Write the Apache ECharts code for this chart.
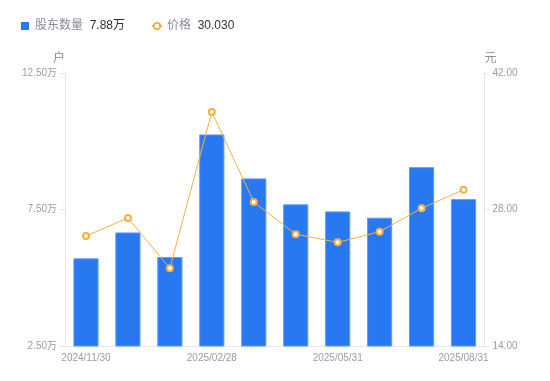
<!DOCTYPE html>
<html>
<head>
<meta charset="utf-8">
<script src="https://cdn.jsdelivr.net/npm/echarts@6/dist/echarts.min.js"></script>
<style>html,body{margin:0;padding:0;background:#fff}#c{width:550px;height:381px}</style>
</head>
<body>
<div id="c"></div>
<script>
var categories = ['2024/11/30','2024/12/31','2025/01/31','2025/02/28','2025/03/31','2025/04/30','2025/05/31','2025/06/30','2025/07/31','2025/08/31'];
var holders = [5.71, 6.66, 5.76, 10.25, 8.64, 7.69, 7.43, 7.20, 9.05, 7.88];
var prices = [25.28, 27.13, 21.97, 38.00, 28.77, 25.46, 24.63, 25.72, 28.12, 30.03];
var leftTicks = [2.5, 12.5, 5];
var rightTicks = [14, 42, 14];

var chart = echarts.init(document.getElementById('c'));
var labelColor = '#9b9bab';
var lineColor = '#e6e6e6';
chart.setOption({
  animation: false,
  textStyle: { fontFamily: '"Liberation Sans", "Noto Sans CJK SC", sans-serif' },
  legend: {
    left: 16, top: 15,
    itemGap: 26,
    itemWidth: 10, itemHeight: 8,
    symbolKeepAspect: true,
    data: [
      { name: '股东数量', icon: 'path://M0,0H10V10H0Z', itemStyle: { borderWidth: 0, color: '#2878f2' } },
      { name: '价格' }
    ],
    formatter: function (name) {
      if (name === '股东数量') return '{n|' + name + '}  {v|' + holders[holders.length - 1].toFixed(2) + '万}';
      return '{n|' + name + '}  {v|' + prices[prices.length - 1].toFixed(3) + '}';
    },
    textStyle: {
      rich: {
        n: { color: '#8a8a99', fontSize: 12 },
        v: { color: '#333', fontSize: 12 }
      }
    }
  },
  grid: { left: 65, right: 65.5, top: 73, bottom: 35 },
  xAxis: {
    type: 'category',
    data: categories,
    axisLine: { lineStyle: { color: lineColor } },
    axisTick: { show: false },
    axisLabel: { color: labelColor, fontSize: 10, interval: 2, margin: 7 }
  },
  yAxis: [
    {
      type: 'value', name: '户', nameGap: 8,
      nameTextStyle: { color: '#8a8a99', fontSize: 12, align: 'right' },
      min: leftTicks[0], max: leftTicks[1], interval: leftTicks[2],
      axisLine: { show: true, lineStyle: { color: lineColor } },
      axisTick: { show: true, length: 5, lineStyle: { color: lineColor } },
      splitLine: { show: false },
      axisLabel: { color: labelColor, fontSize: 10, margin: 8, formatter: function (v) { return v.toFixed(2) + '万'; } }
    },
    {
      type: 'value', name: '元', nameGap: 8,
      nameTextStyle: { color: '#8a8a99', fontSize: 12, align: 'left' },
      min: rightTicks[0], max: rightTicks[1], interval: rightTicks[2],
      axisLine: { show: true, lineStyle: { color: lineColor } },
      axisTick: { show: true, length: 5, lineStyle: { color: lineColor } },
      splitLine: { show: false },
      axisLabel: { color: labelColor, fontSize: 10, margin: 8, formatter: function (v) { return v.toFixed(2); } }
    }
  ],
  series: [
    {
      name: '股东数量', type: 'bar', yAxisIndex: 0, data: holders,
      barWidth: '60%',
      itemStyle: { color: '#2878f2', borderColor: '#5f9af6', borderWidth: 1 }
    },
    {
      name: '价格', type: 'line', yAxisIndex: 1, data: prices,
      symbol: 'circle', symbolSize: 6,
      lineStyle: { color: '#fbb03b', width: 1 },
      itemStyle: { color: '#fff', borderColor: '#fbb03b', borderWidth: 2 }
    }
  ]
});
</script>
</body>
</html>
